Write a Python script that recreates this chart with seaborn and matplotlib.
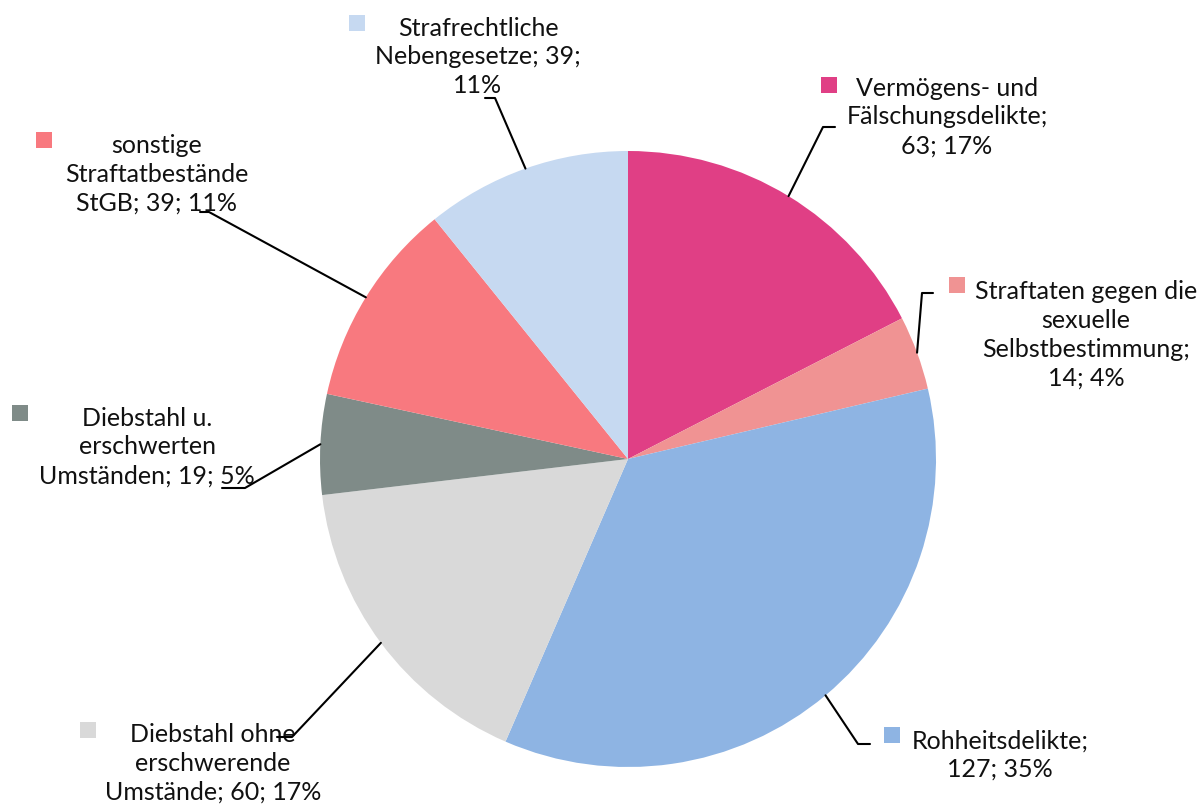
import numpy as np
import matplotlib
matplotlib.use("Agg")
import matplotlib.pyplot as plt
import seaborn as sns

# data
categories = [
    "Vermögens- und Fälschungsdelikte",
    "Straftaten gegen die sexuelle Selbstbestimmung",
    "Rohheitsdelikte",
    "Diebstahl ohne erschwerende Umstände",
    "Diebstahl u. erschwerten Umständen",
    "sonstige Straftatbestände StGB",
    "Strafrechtliche Nebengesetze",
]
values = [63, 14, 127, 60, 19, 39, 39]
colors = ["#E03F85", "#F09393", "#8EB4E3", "#D9D9D9", "#7F8B88", "#F8797F", "#C6D9F1"]

# label text with the line breaks of the original
label_fmt = [
    "Vermögens- und\nFälschungsdelikte;\n{v}; {p}%",
    "Straftaten gegen die\nsexuelle\nSelbstbestimmung;\n{v}; {p}%",
    "Rohheitsdelikte;\n{v}; {p}%",
    "Diebstahl ohne\nerschwerende\nUmstände; {v}; {p}%",
    "Diebstahl u.\nerschwerten\nUmständen; {v}; {p}%",
    "sonstige\nStraftatbestände\nStGB; {v}; {p}%",
    "Strafrechtliche\nNebengesetze; {v};\n{p}%",
]

# layout in pixel coordinates (y from top)
W, H = 1204, 805
CX, CY, R = 628, 459, 308
text_pos = [(947, 117), (1086, 335), (1000, 755), (213, 763), (147, 447), (157, 174), (478, 57)]
square_pos = [(829, 85), (957, 285), (892, 735), (88, 730), (20, 413), (44, 140), (357, 23)]
leader_pts = [
    [(823, 127), (835, 127)],
    [(922, 293), (933, 293)],
    [(858, 744), (870, 744)],
    [(292, 737), (277, 737)],
    [(245, 488), (222, 488)],
    [(209, 212), (200, 212)],
    [(495, 98), (485, 98)],
]

sns.set_theme(style="white")
plt.rcParams["font.family"] = ["Lato", "DejaVu Sans"]

fig = plt.figure(figsize=(W / 100, H / 100), dpi=100)
ax = fig.add_axes([0, 0, 1, 1])

wedges, _ = ax.pie(values, colors=colors, startangle=90, counterclock=False,
                   radius=R, center=(CX, H - CY),
                   wedgeprops=dict(linewidth=0))

total = sum(values)
for i, w in enumerate(wedges):
    pct = round(values[i] / total * 100)
    tx, ty = text_pos[i]
    ax.text(tx, H - ty, label_fmt[i].format(v=values[i], p=pct), ha="center", va="center",
            multialignment="center", fontsize=18, linespacing=1.3, color="#111111")
    sx, sy = square_pos[i]
    ax.scatter([sx], [H - sy], marker="s", s=125, color=colors[i], linewidths=0, zorder=5)
    # leader line starts on the wedge edge at its mid angle
    mid = np.deg2rad((w.theta1 + w.theta2) / 2)
    ax_x = CX + R * np.cos(mid)
    ax_y = (H - CY) + R * np.sin(mid)
    xs = [ax_x] + [p[0] for p in leader_pts[i]]
    ys = [ax_y] + [H - p[1] for p in leader_pts[i]]
    ax.plot(xs, ys, color="black", linewidth=1.5, zorder=4)

ax.set_xlim(0, W)
ax.set_ylim(0, H)
ax.set_aspect("equal")
ax.axis("off")

fig.savefig("out.png", dpi=100, facecolor="white")
